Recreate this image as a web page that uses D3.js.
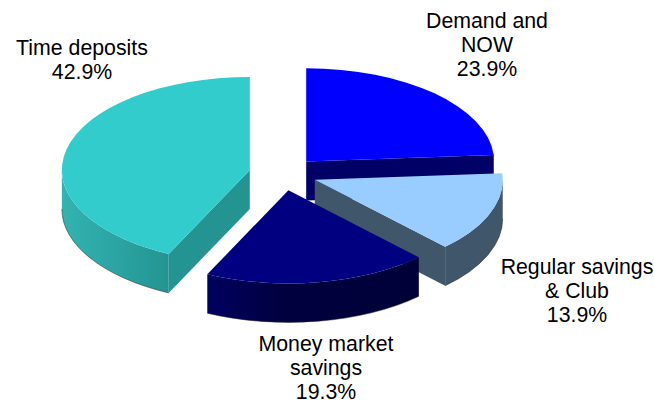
<!DOCTYPE html>
<html><head><meta charset="utf-8">
<script src="https://cdn.jsdelivr.net/npm/d3@7"></script>
<style>html,body{margin:0;padding:0;background:#fff}svg{display:block}text{font-family:"Liberation Sans",Arial,sans-serif;font-size:21.3px;fill:#000}</style>
</head><body><svg id="c" width="654" height="400"></svg>
<script>
const categories = [["Demand and","NOW"],["Regular savings","& Club"],["Money market","savings"],["Time deposits"]];
const values = [23.9,13.9,19.3,42.9];
const topColors = ["#0000ff","#99ccff","#000080","#33cccc"];
const wallColors = ["#000066","#40566b","#000050","#249492"];
const rimStops = [
  [["0%","#000066"],["100%","#000066"]],
  [["0%","#40566b"],["100%","#40566b"]],
  [["0%","#000060"],["35%","#000040"],["100%","#000038"]],
  [["0%","#33b3b1"],["55%","#2aa3a1"],["100%","#249492"]]
];
const labelAnchors = [[487,28],[577,274],[326,351],[82,55]];
const cx=283,cy=173.7,rx=188,squash=0.495,depth=39,explode=34,lh=24;
const svg=d3.select("#c");
const arcs=d3.pie().sort(null).startAngle(0).endAngle(2*Math.PI)(values);
const defs=svg.append("defs");
rimStops.forEach((s,i)=>{
  const g=defs.append("linearGradient").attr("id","rim"+i);
  s.forEach(st=>g.append("stop").attr("offset",st[0]).attr("stop-color",st[1]));
});
const topArc=d3.arc().innerRadius(0).outerRadius(rx);
const pt=(a,r=rx)=>[r*Math.sin(a),-r*Math.cos(a)*squash];
const ry=rx*squash;
function rimBounds(a0,a1){
  const lo=Math.max(a0,Math.PI/2),hi=Math.min(a1,3*Math.PI/2);
  return hi>lo?[pt(lo),pt(hi)]:null;
}
function rimPath(p,q){
  return `M${p}A${rx},${ry} 0 0 1 ${q}L${q[0]},${q[1]+depth}A${rx},${ry} 0 0 0 ${p[0]},${p[1]+depth}Z`;
}
function rimEdge(p,q){
  return `M${p[0]},${p[1]+depth}A${rx},${ry} 0 0 1 ${q[0]},${q[1]+depth}`;
}
function wall(a){const p=pt(a);return `M0,0L${p}L${p[0]},${p[1]+depth}L0,${depth}Z`;}
[0,3,1,2].forEach(i=>{
  const d=arcs[i],mid=(d.startAngle+d.endAngle)/2,off=pt(mid,explode);
  const g=svg.append("g").attr("transform",`translate(${cx+off[0]},${cy+off[1]})`);
  const a0=d.startAngle,a1=d.endAngle;
  if(Math.sin(a1)>0) g.append("path").attr("d",wall(a1)).attr("fill",wallColors[i]);
  if(Math.sin(a0)<0) g.append("path").attr("d",wall(a0)).attr("fill",wallColors[i]);
  const b=rimBounds(a0,a1);
  if(b){
    g.append("path").attr("d",rimPath(b[0],b[1])).attr("fill",`url(#rim${i})`);
    g.append("path").attr("d",rimEdge(b[0],b[1])).attr("fill","none").attr("stroke","#222").attr("stroke-width",0.5);
  }
  g.append("path").attr("d",topArc(d)).attr("transform",`scale(1,${squash})`).attr("fill",topColors[i]);
});
const lab=svg.append("g");
categories.forEach((c,i)=>{
  const t=lab.append("text").attr("text-anchor","middle").attr("x",labelAnchors[i][0]).attr("y",labelAnchors[i][1]);
  c.concat([values[i].toFixed(1)+"%"]).forEach((s,j)=>t.append("tspan").attr("x",labelAnchors[i][0]).attr("dy",j?lh:0).text(s));
});
</script></body></html>
